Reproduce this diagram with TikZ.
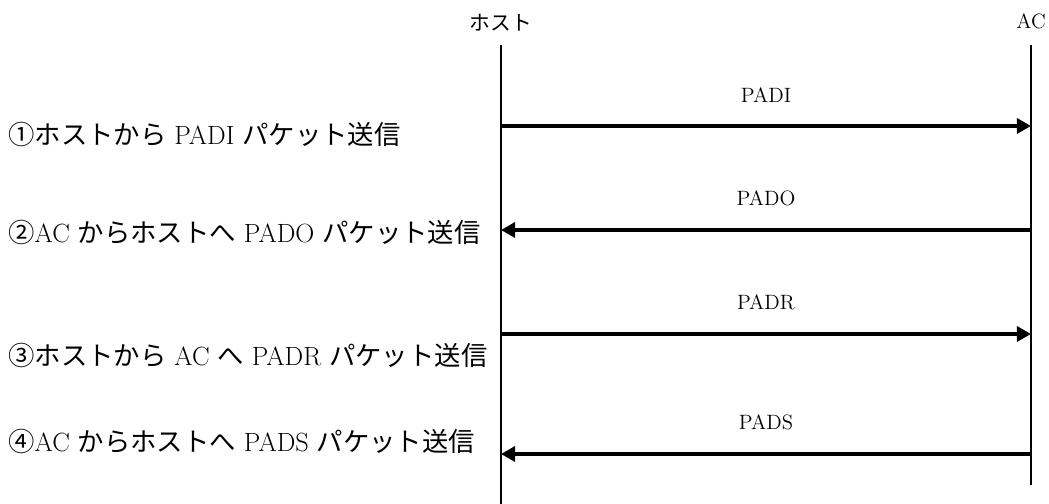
\documentclass[tikz,border=0pt]{standalone}
\usepackage{fontspec}
\newfontfamily\jpfont{Noto Sans CJK JP}
\usetikzlibrary{arrows.meta,positioning,calc}

\begin{document}
\begin{tikzpicture}[x=2cm,y=-2cm]
  \tikzset{
    lifeline/.style={line width=0.9pt},
    msg/.style={line width=2pt,-{Triangle[length=8pt,width=8.5pt]}},
    msglabel/.style={inner sep=0pt,font=\fontsize{11.8}{13}\selectfont},
    stepnote/.style={anchor=west,inner sep=0pt,font=\fontsize{15}{17}\selectfont},
  }
  \useasboundingbox (0,0) rectangle (10.49,5.04);

  % lifelines
  \node[msglabel] (host) at (5.01,0.23) {\jpfont ホスト};
  \node[msglabel] (ac) at (10.31,0.21) {AC};
  \coordinate (hosttop) at (5.01,0.45);
  \coordinate (hostbot) at (5.01,5.04);
  \coordinate (actop) at (10.31,0.45);
  \coordinate (acbot) at (10.31,4.85);
  \draw[lifeline] (hosttop) -- (hostbot);
  \draw[lifeline] (actop) -- (acbot);

  % message ends
  \coordinate (h1) at (5.01,1.26);
  \coordinate (a1) at (10.31,1.26);
  \coordinate (h2) at (5.01,2.30);
  \coordinate (a2) at (10.31,2.30);
  \coordinate (h3) at (5.01,3.34);
  \coordinate (a3) at (10.31,3.34);
  \coordinate (h4) at (5.01,4.54);
  \coordinate (a4) at (10.31,4.54);

  \draw[msg] (h1) -- (a1) node[midway,above=12.5pt,msglabel] (padi) {PADI};
  \draw[msg] (a2) -- (h2) node[midway,above=12.5pt,msglabel] (pado) {PADO};
  \draw[msg] (h3) -- (a3) node[midway,above=12.5pt,msglabel] (padr) {PADR};
  \draw[msg] (a4) -- (h4) node[midway,above=12.5pt,msglabel] (pads) {PADS};

  % steps
  \node[stepnote] (step1) at (0.08,1.34) {{\jpfont ①ホストから} PADI {\jpfont パケット送信}};
  \node[stepnote] (step2) at (0.08,2.32) {{\jpfont ②}AC {\jpfont からホストへ} PADO {\jpfont パケット送信}};
  \node[stepnote] (step3) at (0.08,3.55) {{\jpfont ③ホストから} AC {\jpfont へ} PADR {\jpfont パケット送信}};
  \node[stepnote] (step4) at (0.08,4.41) {{\jpfont ④}AC {\jpfont からホストへ} PADS {\jpfont パケット送信}};
\end{tikzpicture}
\end{document}
